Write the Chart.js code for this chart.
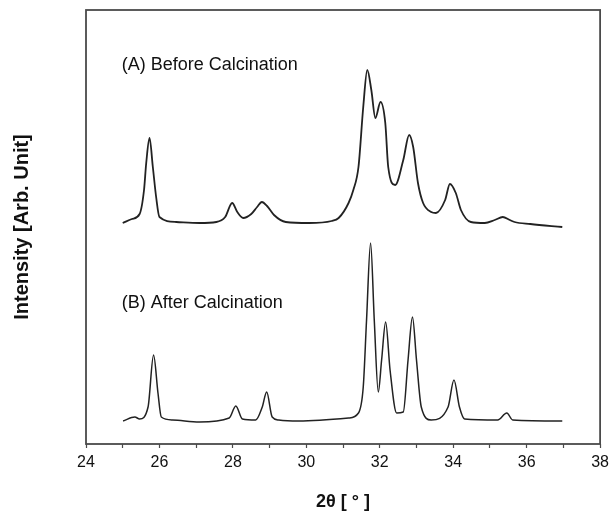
<!DOCTYPE html>
<html>
<head>
<meta charset="utf-8">
<script src="https://cdn.jsdelivr.net/npm/chart.js@4"></script>
<style>
  html, body { margin: 0; padding: 0; background: #fff; }
  #wrap { width: 614px; height: 524px; position: relative; }
</style>
</head>
<body>
<div id="wrap"><canvas id="xrd"></canvas></div>
<script>
// pattern (A) before calcination
const beforeTheta = [
  25.0, 25.25, 25.46, 25.58, 25.64, 25.73, 25.82, 25.91, 26.0, 26.46,
  27.09, 27.55, 27.79, 27.98, 28.12, 28.28, 28.5, 28.66, 28.79, 28.93,
  29.12, 29.44, 30.07, 30.69, 30.88, 31.15, 31.28, 31.42, 31.55, 31.66,
  31.77, 31.88, 32.02, 32.15, 32.23, 32.42, 32.64, 32.8, 32.91, 33.04,
  33.18, 33.4, 33.53, 33.78, 33.91, 34.07, 34.21, 34.48, 34.86, 35.13,
  35.35, 35.54, 35.67, 36.1, 36.97,
];
const beforeIntensity = [
  221, 225, 230, 254, 281, 306, 277, 247, 227, 222,
  221, 222, 227, 241, 232, 226, 230, 237, 242, 238,
  229, 222, 221, 223, 226, 241, 254, 277, 337, 374,
  354, 326, 342, 321, 277, 259, 284, 309, 297, 261,
  241, 232, 231, 244, 260, 251, 234, 222, 221, 224,
  227, 224, 222, 220, 217,
];

// pattern (B) after calcination
const afterTheta = [
  25.01, 25.33, 25.46, 25.69, 25.84, 25.96, 26.05, 26.36, 27.09, 27.9,
  28.08, 28.26, 28.62, 28.8, 28.92, 29.07, 29.25, 29.79, 31.15, 31.42,
  31.55, 31.64, 31.75, 31.85, 31.96, 32.05, 32.16, 32.28, 32.46, 32.64,
  32.77, 32.89, 33.0, 33.13, 33.4, 33.86, 34.02, 34.17, 34.31, 35.21,
  35.46, 35.62, 36.97,
];
const afterIntensity = [
  23, 27, 25, 37, 89, 51, 27, 24, 22, 26,
  38, 25, 24, 37, 52, 27, 24, 23, 26, 31,
  57, 124, 201, 124, 52, 84, 122, 74, 31, 32,
  84, 127, 84, 37, 24, 37, 64, 37, 25, 24,
  31, 24, 23,
];

const xTicks = [24, 26, 28, 30, 32, 34, 36, 38];

const panelLabels = [
  { text: "(A) Before Calcination", theta: 25.0, level: 379 },
  { text: "(B) After Calcination", theta: 25.0, level: 141 },
];

const LINE_COLOR = "#222";
const AXIS_COLOR = "#4a4a4a";
const FONT = "'Liberation Sans', Arial, sans-serif";

function toPoints(xs, ys) {
  return xs.map((x, i) => ({ x, y: ys[i] }));
}

// frame around the plot plus the two panel captions
const framePlugin = {
  id: "frame",
  afterDraw(chart) {
    const { ctx, chartArea, scales } = chart;
    ctx.save();
    ctx.strokeStyle = AXIS_COLOR;
    ctx.lineWidth = 1.8;
    ctx.strokeRect(
      chartArea.left,
      chartArea.top,
      chartArea.right - chartArea.left,
      chartArea.bottom - chartArea.top,
    );
    ctx.fillStyle = "#111";
    ctx.font = `18px ${FONT}`;
    ctx.textBaseline = "middle";
    panelLabels.forEach((label) => {
      ctx.fillText(
        label.text,
        scales.x.getPixelForValue(label.theta) - 1,
        scales.y.getPixelForValue(label.level),
      );
    });
    ctx.restore();
  },
};

new Chart(document.getElementById("xrd").getContext("2d"), {
  type: "line",
  data: {
    datasets: [
      {
        label: "Before Calcination",
        data: toPoints(beforeTheta, beforeIntensity),
        borderColor: LINE_COLOR,
        borderWidth: 1.8,
        pointRadius: 0,
        fill: false,
        cubicInterpolationMode: "monotone",
      },
      {
        label: "After Calcination",
        data: toPoints(afterTheta, afterIntensity),
        borderColor: LINE_COLOR,
        borderWidth: 1.5,
        pointRadius: 0,
        fill: false,
        cubicInterpolationMode: "monotone",
      },
    ],
  },
  options: {
    responsive: true,
    maintainAspectRatio: false,
    animation: false,
    layout: { padding: { top: 10, right: 13, left: 0, bottom: 0 } },
    plugins: {
      legend: { display: false },
      tooltip: { enabled: false },
    },
    scales: {
      x: {
        type: "linear",
        min: 24,
        max: 38,
        afterFit: (scale) => {
          scale.height = 80;
        },
        afterBuildTicks: (scale) => {
          const ticks = [];
          for (let v = 24; v <= 38; v++) ticks.push({ value: v });
          scale.ticks = ticks;
        },
        grid: {
          drawOnChartArea: false,
          drawTicks: true,
          tickLength: 4,
          tickWidth: 1.2,
          tickColor: AXIS_COLOR,
        },
        border: { display: false },
        ticks: {
          color: "#111",
          padding: 5,
          maxRotation: 0,
          autoSkip: false,
          font: { family: FONT, size: 16 },
          callback: (value) => (xTicks.includes(value) ? String(value) : ""),
        },
        title: {
          display: true,
          text: "2θ [ ° ]",
          color: "#111",
          padding: { top: 0, bottom: 11 },
          font: { family: FONT, size: 18, weight: "bold" },
        },
      },
      y: {
        min: 0,
        max: 434,
        afterFit: (scale) => {
          scale.width = 86;
        },
        grid: { display: false },
        border: { display: false },
        ticks: { display: false },
        title: {
          display: true,
          text: "Intensity [Arb. Unit]",
          color: "#111",
          padding: { top: 10, bottom: 0 },
          font: { family: FONT, size: 20, weight: "bold" },
        },
      },
    },
  },
  plugins: [framePlugin],
});
</script>
</body>
</html>
